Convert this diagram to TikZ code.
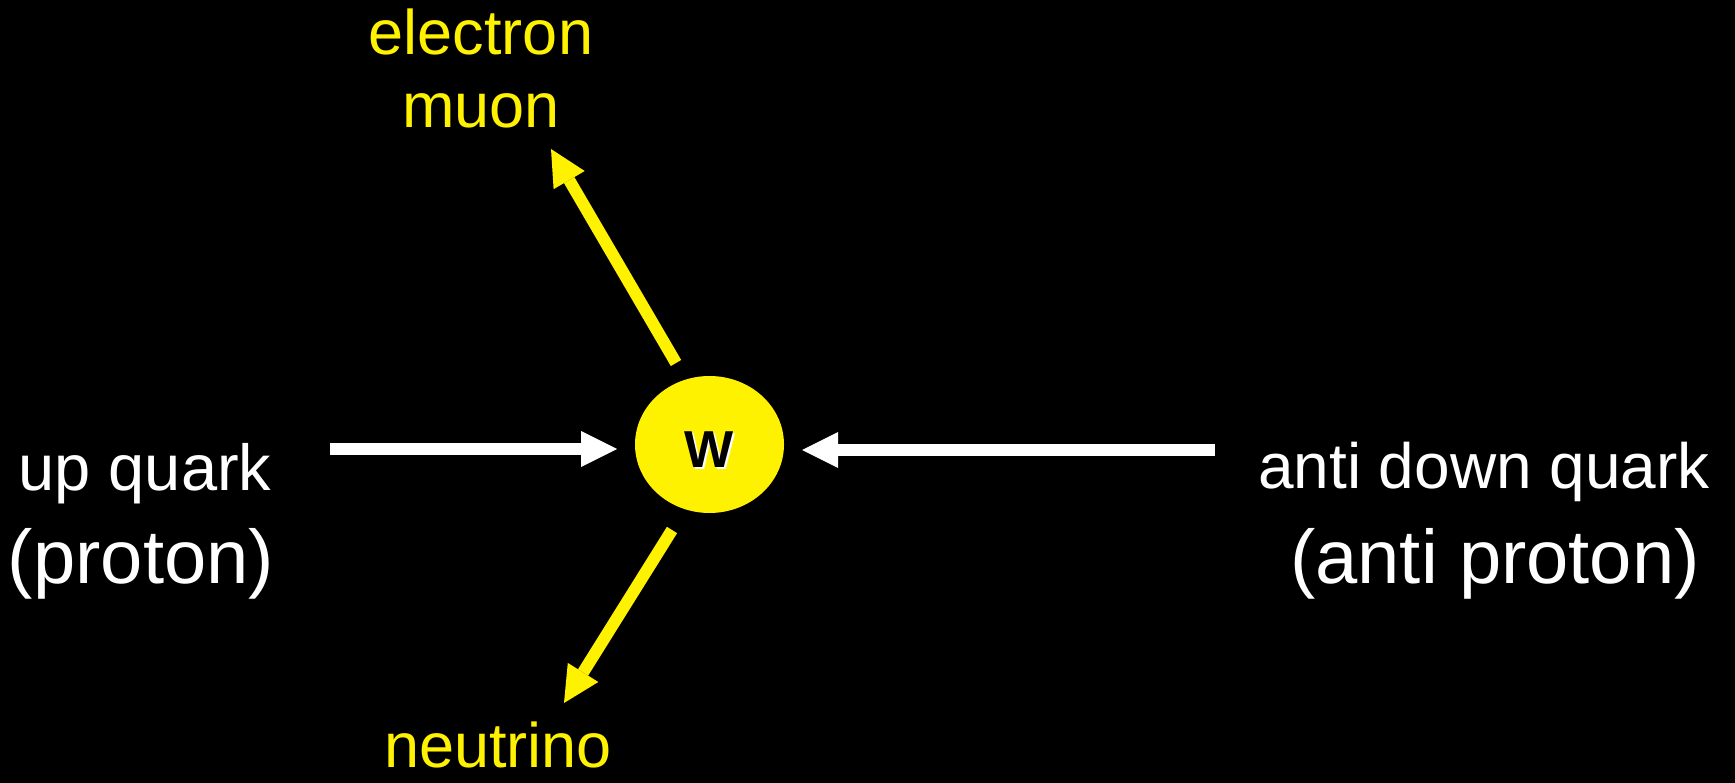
\documentclass[tikz,border=0pt]{standalone}
\usepackage{fontspec}
\setmainfont{Liberation Sans}
\usetikzlibrary{arrows.meta,shapes.geometric}
\begin{document}
\begin{tikzpicture}[x=1pt,y=-1pt,
  lbl/.style={anchor=base,inner sep=0pt,text=white},
  ylbl/.style={anchor=base,inner sep=0pt,text=yellow,align=center},
  warrow/.style={draw=white,line width=12pt,-{Triangle[width=36pt,length=36pt,line width=0pt]}},
  yarrow/.style={warrow,draw=yellow},
  wnode/.style={ellipse,fill=yellow,minimum width=149pt,minimum height=137pt,inner sep=0pt}]
\fill[black] (0,0) rectangle (1735,783);
\useasboundingbox (0,0) rectangle (1735,783);
% W boson
\node[wnode] (W) at (709.5,444.5) {};
\node[anchor=base,inner sep=0pt,text=white,font=\fontsize{52}{60}\selectfont\bfseries] (Wshadow) at (711.5,469) {W};
\node[anchor=base,inner sep=0pt,text=black,font=\fontsize{52}{60}\selectfont\bfseries] (Wlabel) at (709.5,467) {W};
% labels
\node[ylbl,font=\fontsize{63}{73}\selectfont] (lep) at (481,128) {electron\\muon};
\node[ylbl,font=\fontsize{63}{73}\selectfont] (nu) at (498,767) {neutrino};
\node[lbl,font=\fontsize{65}{75}\selectfont] (upq) at (145,490) {up quark};
\node[lbl,font=\fontsize{76}{86}\selectfont] (prot) at (141,583) {(proton)};
\node[lbl,font=\fontsize{64}{75}\selectfont] (adq) at (1484,488) {anti down quark};
\node[lbl,font=\fontsize{76}{86}\selectfont] (aprot) at (1495,583) {(anti proton)};
% arrow end points
\coordinate (lTail) at (330,449);
\coordinate (lTip) at (617,449);
\coordinate (rTail) at (1215,450);
\coordinate (rTip) at (802,450);
\coordinate (uTail) at (676,363);
\coordinate (uTip) at (551,149);
\coordinate (dTail) at (672,530);
\coordinate (dTip) at (564,703);
\draw[warrow] (lTail) -- (lTip);
\draw[warrow] (rTail) -- (rTip);
\draw[yarrow] (uTail) -- (uTip);
\draw[yarrow] (dTail) -- (dTip);
\end{tikzpicture}
\end{document}
